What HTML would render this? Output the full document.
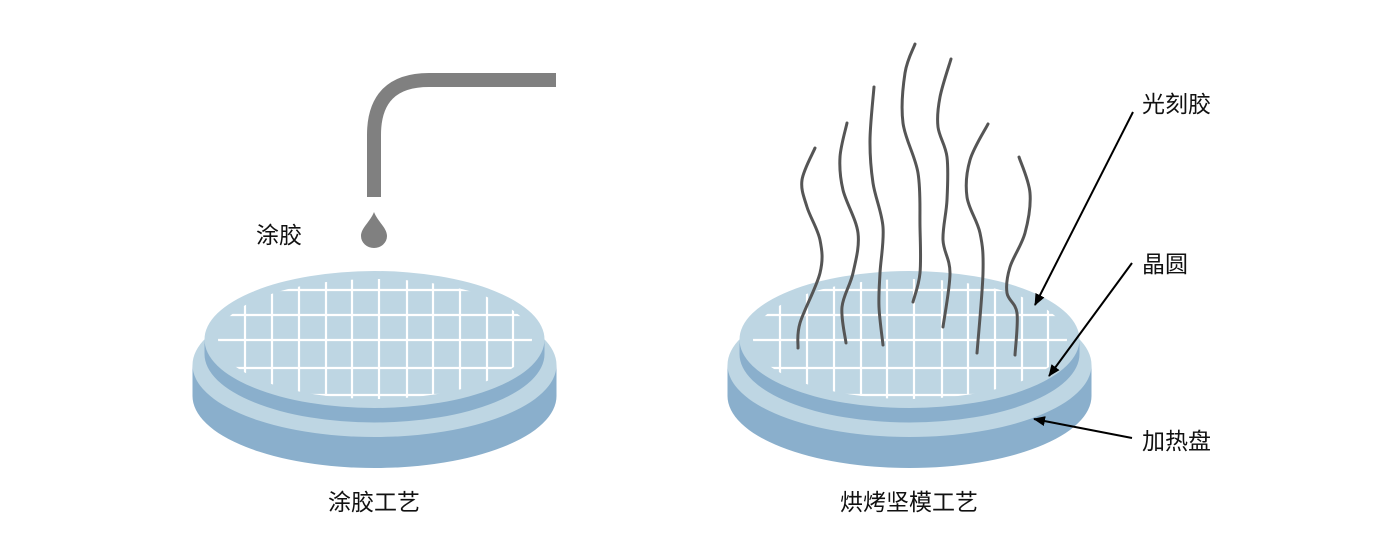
<!DOCTYPE html>
<html><head><meta charset="utf-8"><style>
html,body{margin:0;padding:0;background:#fff;}
svg{display:block;}
text{font-family:"Liberation Sans","Noto Sans CJK SC",sans-serif;font-size:23px;fill:#111;}
</style></head><body>
<svg id="s" width="1400" height="560" viewBox="0 0 1400 560" xmlns="http://www.w3.org/2000/svg">
<defs>
<clipPath id="c1"><ellipse cx="375" cy="339" rx="157" ry="60"/></clipPath>
<marker id="ah" markerWidth="12" markerHeight="10" refX="11" refY="5" orient="auto" markerUnits="userSpaceOnUse">
<path d="M0,0 L12,5 L0,10 Z" fill="#000"/></marker>
</defs>
<g id="disc1">
<ellipse cx="374.5" cy="396" rx="182" ry="72" fill="#8aafcc"/>
<rect x="192.5" y="365" width="364" height="31" fill="#8aafcc"/>
<ellipse cx="374.5" cy="365" rx="182" ry="72" fill="#bed6e3"/>
<ellipse cx="374.5" cy="354" rx="170" ry="68.5" fill="#8aafcc"/>
<rect x="204.5" y="339.5" width="340" height="14.5" fill="#8aafcc"/>
<ellipse cx="374.5" cy="339.5" rx="170" ry="68.5" fill="#bed6e3"/>
<g clip-path="url(#c1)" stroke="#fff" stroke-width="2.2">
<line x1="180" y1="290" x2="570" y2="290"/><line x1="180" y1="315" x2="570" y2="315"/><line x1="180" y1="340" x2="570" y2="340"/><line x1="180" y1="368" x2="570" y2="368"/><line x1="180" y1="395" x2="570" y2="395"/>
<line x1="245" y1="250" x2="245" y2="420"/><line x1="272" y1="250" x2="272" y2="420"/><line x1="299" y1="250" x2="299" y2="420"/><line x1="326" y1="250" x2="326" y2="420"/><line x1="352" y1="250" x2="352" y2="420"/><line x1="379" y1="250" x2="379" y2="420"/><line x1="407" y1="250" x2="407" y2="420"/><line x1="433" y1="250" x2="433" y2="420"/><line x1="460" y1="250" x2="460" y2="420"/><line x1="487" y1="250" x2="487" y2="420"/><line x1="513" y1="250" x2="513" y2="420"/>
</g>
</g>
<g transform="translate(535,0)">
<ellipse cx="374.5" cy="396" rx="182" ry="72" fill="#8aafcc"/>
<rect x="192.5" y="365" width="364" height="31" fill="#8aafcc"/>
<ellipse cx="374.5" cy="365" rx="182" ry="72" fill="#bed6e3"/>
<ellipse cx="374.5" cy="354" rx="170" ry="68.5" fill="#8aafcc"/>
<rect x="204.5" y="339.5" width="340" height="14.5" fill="#8aafcc"/>
<ellipse cx="374.5" cy="339.5" rx="170" ry="68.5" fill="#bed6e3"/>
<g clip-path="url(#c1)" stroke="#fff" stroke-width="2.2">
<line x1="180" y1="290" x2="570" y2="290"/><line x1="180" y1="315" x2="570" y2="315"/><line x1="180" y1="340" x2="570" y2="340"/><line x1="180" y1="368" x2="570" y2="368"/><line x1="180" y1="395" x2="570" y2="395"/>
<line x1="245" y1="250" x2="245" y2="420"/><line x1="272" y1="250" x2="272" y2="420"/><line x1="299" y1="250" x2="299" y2="420"/><line x1="326" y1="250" x2="326" y2="420"/><line x1="352" y1="250" x2="352" y2="420"/><line x1="379" y1="250" x2="379" y2="420"/><line x1="407" y1="250" x2="407" y2="420"/><line x1="433" y1="250" x2="433" y2="420"/><line x1="460" y1="250" x2="460" y2="420"/><line x1="487" y1="250" x2="487" y2="420"/><line x1="513" y1="250" x2="513" y2="420"/>
</g>
</g>
<path d="M374,197 L374,135 Q374,80 429,80 L556,80" fill="none" stroke="#808080" stroke-width="14"/>
<path d="M374,212 C378,222 387,228 387,236 A13,12 0 0 1 361,236 C361,228 370,222 374,212 Z" fill="#808080"/>
<g id="steam" fill="none" stroke="#555" stroke-width="3" stroke-linecap="round"></g>
<line x1="1133" y1="112" x2="1035" y2="305" stroke="#000" stroke-width="2" marker-end="url(#ah)"/>
<line x1="1132" y1="263" x2="1049" y2="376" stroke="#000" stroke-width="2" marker-end="url(#ah)"/>
<line x1="1132" y1="438" x2="1034" y2="419" stroke="#000" stroke-width="2" marker-end="url(#ah)"/>
<text x="1142" y="112">光刻胶</text>
<text x="1142" y="272">晶圆</text>
<text x="1142" y="449">加热盘</text>
<text x="256" y="243">涂胶</text>
<text x="374" y="510" text-anchor="middle">涂胶工艺</text>
<text x="909" y="510" text-anchor="middle">烘烤坚模工艺</text>
</svg>
<script>
var L=[
[[815,148],[802,180],[807,207],[820,240],[820,273],[800,323],[798,348]],
[[847,123],[840,157],[843,190],[858,233],[853,273],[842,307],[846,343]],
[[874,87],[870,140],[873,183],[883,227],[880,273],[879,307],[883,345]],
[[915,44],[905,73],[903,123],[918,173],[920,227],[920,273],[913,302]],
[[951,59],[940,97],[938,127],[947,157],[947,200],[943,240],[950,273],[943,327]],
[[988,124],[970,160],[967,197],[980,233],[983,273],[977,353]],
[[1019,157],[1030,193],[1025,233],[1010,267],[1007,293],[1017,313],[1015,355]]];
var g=document.getElementById('steam');
L.forEach(function(p){var d='M'+p[0];for(var i=0;i<p.length-1;i++){var a=p[i-1]||p[i],b=p[i],c=p[i+1],e=p[i+2]||c;
var c1=[b[0]+(c[0]-a[0])/6,b[1]+(c[1]-a[1])/6],c2=[c[0]-(e[0]-b[0])/6,c[1]-(e[1]-b[1])/6];
d+=' C'+c1+' '+c2+' '+c;}
var el=document.createElementNS('http://www.w3.org/2000/svg','path');el.setAttribute('d',d);g.appendChild(el);});
</script>
</body></html>
